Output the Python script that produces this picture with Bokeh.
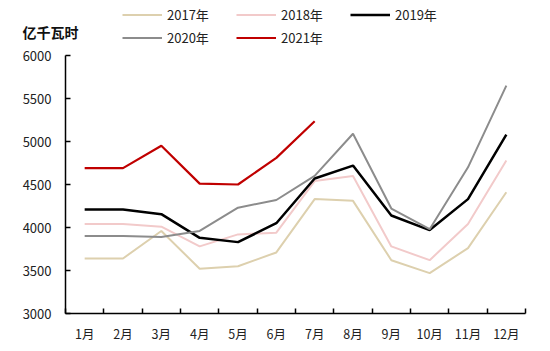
from bokeh.plotting import figure
from bokeh.models import FixedTicker, Legend, LegendItem, Label, Range1d
from bokeh.layouts import column
from bokeh.embed import file_html
from bokeh.resources import INLINE

months = ["1月", "2月", "3月", "4月", "5月", "6月", "7月", "8月", "9月", "10月", "11月", "12月"]
y2017 = [3640, 3640, 3960, 3520, 3550, 3710, 4330, 4310, 3620, 3470, 3760, 4410]
y2018 = [4040, 4040, 4010, 3780, 3920, 3940, 4540, 4600, 3780, 3620, 4040, 4780]
y2019 = [4210, 4210, 4155, 3880, 3830, 4050, 4570, 4720, 4140, 3970, 4330, 5080]
y2020 = [3900, 3900, 3890, 3960, 4230, 4320, 4600, 5090, 4220, 3980, 4700, 5650]
y2021 = [4690, 4690, 4950, 4510, 4500, 4810, 5235]
y_ticks = [3000, 3500, 4000, 4500, 5000, 5500, 6000]
unit_label = "亿千瓦时"

FONT = "Noto Sans CJK SC"
HEAD_H = 47

series = [
    ("2017年", y2017, "#DDD0AE", 2),
    ("2018年", y2018, "#F2CACA", 2),
    ("2019年", y2019, "#000000", 2.5),
    ("2020年", y2020, "#8C8C8C", 2),
    ("2021年", y2021, "#C00000", 2.2),
]
xs = list(range(1, 13))

# ---- header: unit label + legend (series lines lie outside its view) ----
h = figure(width=550, height=HEAD_H, output_backend="svg", toolbar_location=None,
           x_range=Range1d(0, 550), y_range=Range1d(0, HEAD_H),
           x_axis_type=None, y_axis_type=None,
           min_border_left=0, min_border_right=0, min_border_top=0, min_border_bottom=0)
h.frame_align = False
h.outline_line_color = None
h.xgrid.visible = False
h.ygrid.visible = False
items = []
for name, ys, color, w in series:
    r = h.line(xs[:len(ys)], ys, line_color=color, line_width=w)
    items.append(LegendItem(label=name, renderers=[r]))
legend = Legend(items=items, ncols=3, location=(122, 0), orientation="horizontal",
                border_line_color=None, background_fill_alpha=0,
                glyph_width=40, glyph_height=15, label_text_font=FONT,
                label_text_font_size="13px", label_text_color="#222222",
                spacing=4, padding=0, margin=0, label_standoff=5,
                label_height=15, label_width=65)
h.add_layout(legend, "center")
h.add_layout(Label(x=22, y=HEAD_H - 31, text=unit_label, text_font=FONT,
                   text_font_size="14px", text_font_style="bold",
                   text_color="#111111", text_baseline="middle"))

# ---- main chart ----
p = figure(width=550, height=351 - HEAD_H, output_backend="svg", toolbar_location=None,
           x_range=Range1d(0.5, 12.5), y_range=Range1d(3000, 6000),
           min_border_left=65, min_border_right=25, min_border_top=8, min_border_bottom=38)
p.frame_align = False
p.outline_line_color = None
p.xgrid.visible = False
p.ygrid.visible = False

for name, ys, color, w in series:
    p.line(xs[:len(ys)], ys, line_color=color, line_width=w)

xa = p.xaxis[0]
xa.ticker = FixedTicker(ticks=xs, minor_ticks=[i + 0.5 for i in range(0, 13)])
xa.major_label_overrides = {i + 1: m for i, m in enumerate(months)}
xa.major_tick_in = 0
xa.major_tick_out = 0
xa.minor_tick_in = 5
xa.minor_tick_out = 0
xa.minor_tick_line_color = "black"
xa.axis_line_color = "black"
xa.axis_line_width = 1.5
xa.minor_tick_line_width = 1.5
xa.major_label_text_font = FONT
xa.major_label_text_font_size = "12.5px"
xa.major_label_text_color = "#222222"
xa.major_label_standoff = 10

ya = p.yaxis[0]
ya.ticker = FixedTicker(ticks=y_ticks)
ya.major_tick_in = 5
ya.major_tick_out = 0
ya.minor_tick_line_color = None
ya.axis_line_color = "black"
ya.axis_line_width = 1.5
ya.major_tick_line_width = 1.5
ya.major_label_text_font = FONT
ya.major_label_text_font_size = "13px"
ya.major_label_text_color = "#222222"
ya.major_label_standoff = 14

layout = column(h, p, spacing=0)
open("out.html", "w").write(file_html(layout, INLINE))
